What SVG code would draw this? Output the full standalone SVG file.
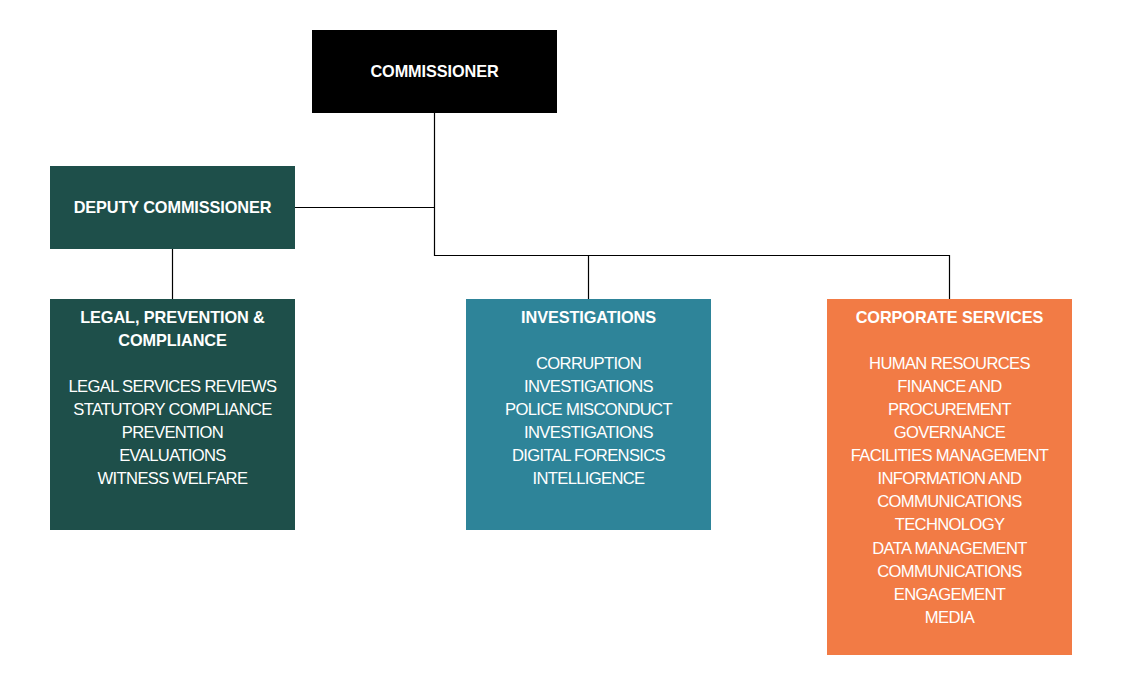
<svg xmlns="http://www.w3.org/2000/svg" width="1133" height="678" viewBox="0 0 1133 678">
<style>
.h{font-family:"Liberation Sans",Arial,sans-serif;font-weight:bold;font-size:16.3px;fill:#fff;text-anchor:middle;letter-spacing:-0.1px}
.i{font-family:"Liberation Sans",Arial,sans-serif;font-size:16.6px;fill:#fff;text-anchor:middle;letter-spacing:-0.65px}
.c{stroke:#000;stroke-width:1.2;fill:none}
</style>
<rect width="1133" height="678" fill="#fff"/>
<g id="connectors">
<path class="c" d="M434.5 112V255.5H949.5V299"/>
<path class="c" d="M295 207.5H434.5"/>
<path class="c" d="M588.5 255.5V299"/>
<path class="c" d="M172.5 249V299"/>
</g>
<g id="commissioner">
<rect x="312" y="30" width="245" height="83" fill="#000"/>
<text class="h" x="434.5" y="77">COMMISSIONER</text>
</g>
<g id="deputy">
<rect x="50" y="166" width="245" height="83" fill="#1E4F4A"/>
<text class="h" x="172.5" y="213">DEPUTY COMMISSIONER</text>
</g>
<g id="legal">
<rect x="50" y="299" width="245" height="231" fill="#1E4F4A"/>
<text class="h" x="172.5" y="323">LEGAL, PREVENTION &amp;</text>
<text class="h" x="172.5" y="346">COMPLIANCE</text>
<text class="i" x="172.5" y="392">LEGAL SERVICES REVIEWS</text>
<text class="i" x="172.5" y="415">STATUTORY COMPLIANCE</text>
<text class="i" x="172.5" y="438">PREVENTION</text>
<text class="i" x="172.5" y="461">EVALUATIONS</text>
<text class="i" x="172.5" y="484">WITNESS WELFARE</text>
</g>
<g id="investigations">
<rect x="466" y="299" width="245" height="231" fill="#2E8499"/>
<text class="h" x="588.5" y="323">INVESTIGATIONS</text>
<text class="i" x="588.5" y="369">CORRUPTION</text>
<text class="i" x="588.5" y="392">INVESTIGATIONS</text>
<text class="i" x="588.5" y="415">POLICE MISCONDUCT</text>
<text class="i" x="588.5" y="438">INVESTIGATIONS</text>
<text class="i" x="588.5" y="461">DIGITAL FORENSICS</text>
<text class="i" x="588.5" y="484">INTELLIGENCE</text>
</g>
<g id="corporate">
<rect x="827" y="299" width="245" height="356" fill="#F27B45"/>
<text class="h" x="949.5" y="323">CORPORATE SERVICES</text>
<text class="i" x="949.5" y="369">HUMAN RESOURCES</text>
<text class="i" x="949.5" y="392">FINANCE AND</text>
<text class="i" x="949.5" y="415">PROCUREMENT</text>
<text class="i" x="949.5" y="438">GOVERNANCE</text>
<text class="i" x="949.5" y="461">FACILITIES MANAGEMENT</text>
<text class="i" x="949.5" y="484">INFORMATION AND</text>
<text class="i" x="949.5" y="507">COMMUNICATIONS</text>
<text class="i" x="949.5" y="530">TECHNOLOGY</text>
<text class="i" x="949.5" y="554">DATA MANAGEMENT</text>
<text class="i" x="949.5" y="577">COMMUNICATIONS</text>
<text class="i" x="949.5" y="600">ENGAGEMENT</text>
<text class="i" x="949.5" y="623">MEDIA</text>
</g>
</svg>
